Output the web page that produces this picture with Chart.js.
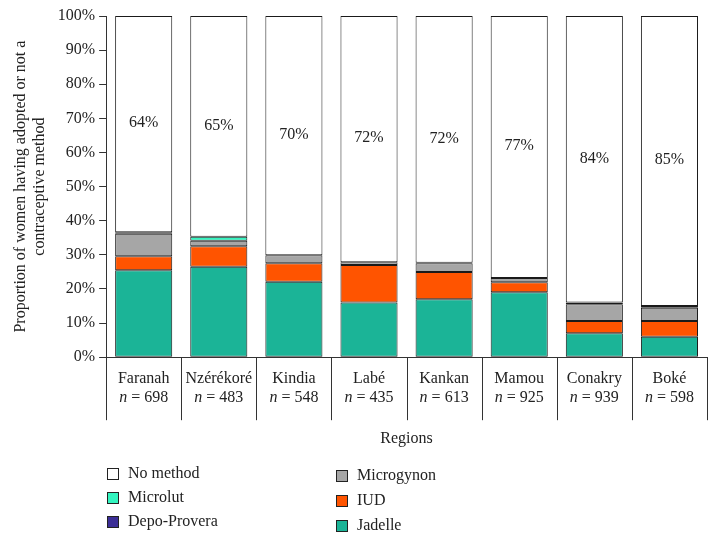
<!DOCTYPE html>
<html>
<head>
<meta charset="utf-8">
<script src="https://cdn.jsdelivr.net/npm/chart.js@4.4.0/dist/chart.umd.min.js"></script>
<style>
    body { margin: 0; background: #fff; }
</style>
</head>
<body>
<canvas id="chart" width="718" height="545"></canvas>
<script>
const regions = ['Faranah', 'Nzérékoré', 'Kindia', 'Labé', 'Kankan', 'Mamou', 'Conakry', 'Boké'];
const sampleSizes = [698, 483, 548, 435, 613, 925, 939, 598];

const jadelle = [25.5, 26.5, 22.1, 16.0, 17.0, 19.0, 7.0, 6.0];
const iud = [4.1, 6.0, 5.4, 11.0, 8.0, 3.0, 3.6, 4.6];
const microgynon = [6.6, 1.6, 2.4, 0.8, 2.5, 1.2, 4.9, 3.9];
const microlut = [null, 1.2, null, null, null, null, null, null];
const depoProvera = [0.4, null, null, null, 0.2, null, 0.5, 0.5];
const noMethod = [63.4, 64.7, 70.1, 72.2, 72.3, 76.8, 84.0, 85.0];
const noMethodLabels = ['64%', '65%', '70%', '72%', '72%', '77%', '84%', '85%'];

const yTicks = [0, 10, 20, 30, 40, 50, 60, 70, 80, 90, 100];

const serif = "'Liberation Serif', 'DejaVu Serif', serif";
const fs = 16;

function makeDataset(label, data, color) {
    return {
        label: label,
        data: data,
        backgroundColor: color,
        borderColor: '#1a1a1a',
        borderWidth: 1,
        borderSkipped: false,
        barPercentage: 0.76,
        categoryPercentage: 1.0
    };
}

const datasets = [
    makeDataset('Jadelle', jadelle, '#1bb497'),
    makeDataset('IUD', iud, '#ff5400'),
    makeDataset('Microgynon', microgynon, '#a6a6a6'),
    makeDataset('Microlut', microlut, '#33f5c0'),
    makeDataset('Depo-Provera', depoProvera, '#3b2e96'),
    makeDataset('No method', noMethod, '#ffffff')
];

// percentage text in the middle of the "No method" segment
const noMethodText = {
    id: 'noMethodText',
    afterDatasetsDraw(chart) {
        const meta = chart.getDatasetMeta(5);
        const ctx = chart.ctx;
        ctx.save();
        ctx.font = fs + 'px ' + serif;
        ctx.fillStyle = '#222';
        ctx.textAlign = 'center';
        ctx.textBaseline = 'middle';
        meta.data.forEach((bar, i) => {
            const props = bar.getProps(['x', 'y', 'base'], true);
            ctx.fillText(noMethodLabels[i], props.x, (props.y + props.base) / 2 - 1);
        });
        ctx.restore();
    }
};

// label boxes under the x axis: separators plus the "n = ..." line with an italic n
const categoryBoxes = {
    id: 'categoryBoxes',
    afterDraw(chart) {
        const x = chart.scales.x;
        const ctx = chart.ctx;
        const top = chart.chartArea.bottom;
        ctx.save();
        ctx.strokeStyle = '#333';
        ctx.lineWidth = 1;
        for (let i = 0; i <= regions.length; i++) {
            const px = Math.round(x.getPixelForValue(i - 0.5)) + 0.5;
            ctx.beginPath();
            ctx.moveTo(px, top);
            ctx.lineTo(px, top + 63);
            ctx.stroke();
        }
        ctx.fillStyle = '#222';
        ctx.textBaseline = 'middle';
        ctx.textAlign = 'left';
        sampleSizes.forEach((n, i) => {
            const cx = x.getPixelForValue(i);
            ctx.font = 'italic ' + fs + 'px ' + serif;
            const wN = ctx.measureText('n').width;
            ctx.font = fs + 'px ' + serif;
            const rest = ' = ' + n;
            const wR = ctx.measureText(rest).width;
            const start = cx - (wN + wR) / 2;
            ctx.font = 'italic ' + fs + 'px ' + serif;
            ctx.fillText('n', start, top + 41);
            ctx.font = fs + 'px ' + serif;
            ctx.fillText(rest, start + wN, top + 41);
        });
        ctx.restore();
    }
};

// two-column legend drawn from the datasets
const legendOrder = [
    { name: 'No method', x: 107, y: 474 },
    { name: 'Microlut', x: 107, y: 498 },
    { name: 'Depo-Provera', x: 107, y: 522 },
    { name: 'Microgynon', x: 336, y: 476 },
    { name: 'IUD', x: 336, y: 501 },
    { name: 'Jadelle', x: 336, y: 526 }
];
const columnLegend = {
    id: 'columnLegend',
    afterDraw(chart) {
        const ctx = chart.ctx;
        ctx.save();
        ctx.font = fs + 'px ' + serif;
        ctx.textBaseline = 'middle';
        ctx.textAlign = 'left';
        legendOrder.forEach(item => {
            const ds = chart.data.datasets.find(d => d.label === item.name);
            ctx.fillStyle = ds.backgroundColor;
            ctx.fillRect(item.x, item.y - 6, 12, 12);
            ctx.strokeStyle = '#222';
            ctx.lineWidth = 1;
            ctx.strokeRect(item.x + 0.5, item.y - 5.5, 11, 11);
            ctx.fillStyle = '#222';
            ctx.fillText(ds.label, item.x + 21, item.y);
        });
        ctx.restore();
    }
};

const ctx = document.getElementById('chart').getContext('2d');
const chart = new Chart(ctx, {
    type: 'bar',
    data: {
        labels: regions.map(r => [r, ' ']),
        datasets: datasets
    },
    options: {
        responsive: false,
        animation: false,
        layout: { padding: { top: 16, right: 11, left: 8, bottom: 97 } },
        plugins: {
            legend: { display: false },
            tooltip: { enabled: false }
        },
        scales: {
            x: {
                stacked: true,
                grid: { display: false },
                border: { color: '#333' },
                ticks: {
                    font: { family: serif, size: fs, lineHeight: 1.3 },
                    color: '#222',
                    padding: 3,
                    maxRotation: 0,
                    autoSkip: false
                },
                title: {
                    display: true,
                    text: 'Regions',
                    font: { family: serif, size: fs },
                    color: '#222',
                    padding: { top: 16, bottom: 0 }
                }
            },
            y: {
                stacked: true,
                min: 0,
                max: 100,
                afterBuildTicks(axis) {
                    axis.ticks = yTicks.map(v => ({ value: v }));
                },
                grid: {
                    drawOnChartArea: false,
                    tickLength: 7,
                    color: '#333'
                },
                border: { color: '#333' },
                ticks: {
                    font: { family: serif, size: fs },
                    color: '#222',
                    padding: 4,
                    callback: v => v + '%'
                },
                title: {
                    display: true,
                    text: ['Proportion of women having adopted or not a', 'contraceptive method'],
                    font: { family: serif, size: fs, lineHeight: 1.15 },
                    color: '#222',
                    padding: { bottom: 5 }
                }
            }
        }
    },
    plugins: [noMethodText, categoryBoxes, columnLegend]
});
</script>
</body>
</html>
